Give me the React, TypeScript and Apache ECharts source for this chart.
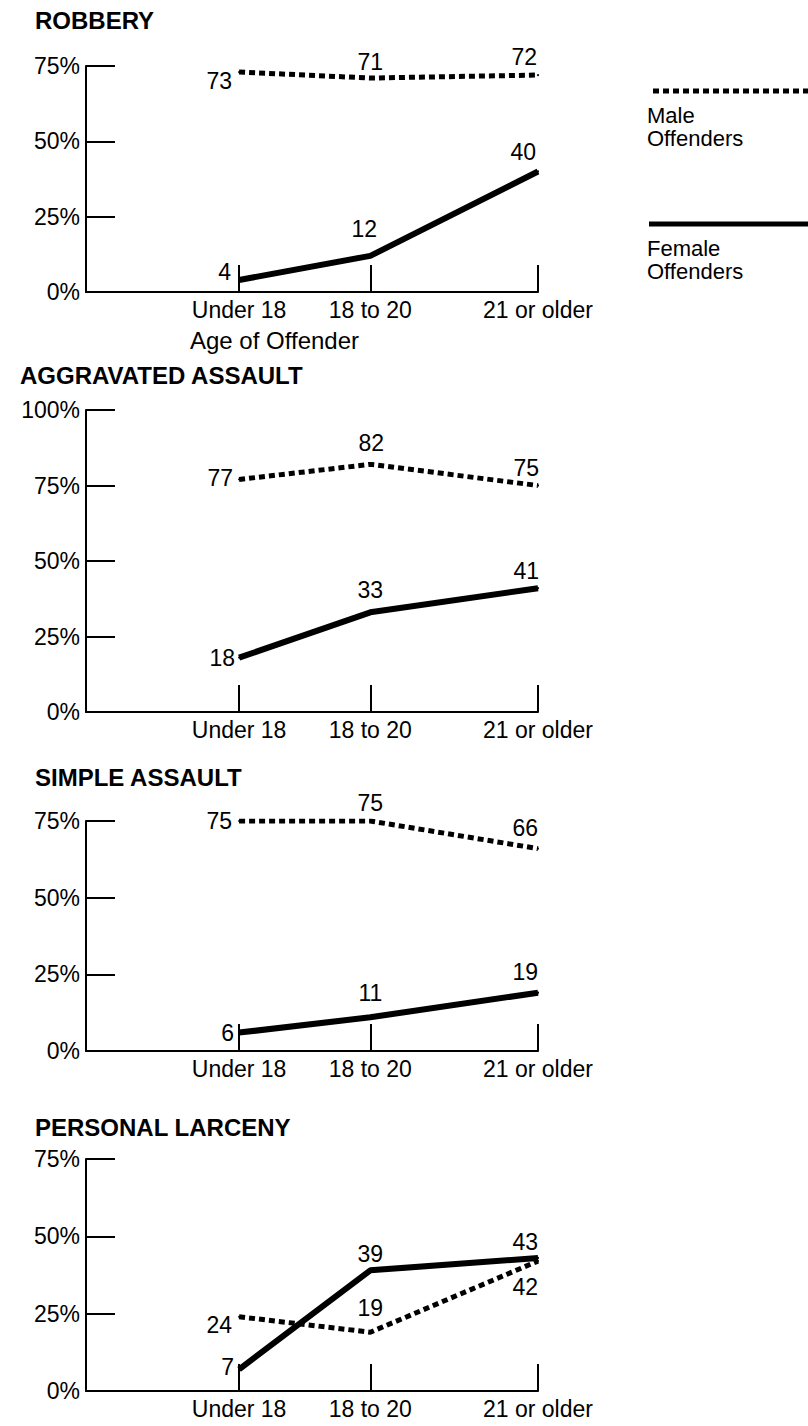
import React, { useEffect, useRef } from "react";
import * as echarts from "echarts";

// ---------- DATA ----------
const ageGroups = ["Under 18", "18 to 20", "21 or older"];
const crimeTitles = ["ROBBERY", "AGGRAVATED ASSAULT", "SIMPLE ASSAULT", "PERSONAL LARCENY"];
const robberyMale = [73, 71, 72];
const robberyFemale = [4, 12, 40];
const aggravatedMale = [77, 82, 75];
const aggravatedFemale = [18, 33, 41];
const simpleMale = [75, 75, 66];
const simpleFemale = [6, 11, 19];
const larcenyMale = [24, 19, 42];
const larcenyFemale = [7, 39, 43];
const yAxisMax = [75, 100, 75, 75];
const yTickStep = 25;
const xAxisTitle = "Age of Offender";
const legendMale = "Male\nOffenders";
const legendFemale = "Female\nOffenders";

const maleSeries = [robberyMale, aggravatedMale, simpleMale, larcenyMale];
const femaleSeries = [robberyFemale, aggravatedFemale, simpleFemale, larcenyFemale];

// ---------- LAYOUT ----------
const FONT = "'Liberation Sans', Arial, Helvetica, sans-serif";
const FS = 23;
const TITLE_FS = 24;
const LEGEND_FS = 22;
const GRID_LEFT = 86;
const GRID_WIDTH = 452;
const SLOT_COUNT = 62; // spacing slots of the horizontal axis
const AGE_SLOT = [21, 39, 62];
const PANELS = [
  { top: 66, bottom: 292, titleX: 35, titleY: 20 },
  { top: 410, bottom: 712, titleX: 20, titleY: 375 },
  { top: 821, bottom: 1051, titleX: 35, titleY: 777 },
  { top: 1159, bottom: 1391, titleX: 35, titleY: 1127 },
];
// label placement: [align, dx, dy] relative to the point
const LABEL_POS = [
  {
    male: [["right", -7, 9], ["center", 0, -16], ["right", -1, -18]],
    female: [["right", -8, -8], ["center", -6, -27], ["right", -2, -19]],
  },
  {
    male: [["right", -6, -1], ["center", 1, -21], ["right", 1, -18]],
    female: [["right", -4, 0], ["center", 0, -22], ["right", 1, -17]],
  },
  {
    male: [["right", -7, 0], ["center", 0, -18], ["right", 0, -21]],
    female: [["right", -5, 0], ["center", 0, -24], ["right", 0, -21]],
  },
  {
    male: [["right", -7, 8], ["center", 0, -24], ["right", 0, 26]],
    female: [["right", -5, -2], ["center", 0, -16], ["right", 0, -16]],
  },
];

const slotCategories: string[] = Array.from({ length: SLOT_COUNT + 1 }, (_, i) => {
  const k = AGE_SLOT.indexOf(i);
  return k >= 0 ? ageGroups[k] : "";
});

function buildData(values: number[], pos: any[]) {
  const arr: any[] = new Array(SLOT_COUNT + 1).fill(null);
  AGE_SLOT.forEach((slot, i) => {
    const [align, dx, dy] = pos[i];
    arr[slot] = {
      value: values[i],
      label: {
        show: true,
        position: "inside",
        align,
        verticalAlign: "middle",
        offset: [dx, dy],
        formatter: String(values[i]),
        color: "#000",
        fontSize: FS,
        fontFamily: FONT,
      },
    };
  });
  return arr;
}

export default function App() {
  const ref = useRef<HTMLDivElement>(null);
  useEffect(() => {
    if (!ref.current) return;
    const chart = echarts.init(ref.current, null, { renderer: "svg" });

    const grid = PANELS.map((p) => ({
      left: GRID_LEFT,
      width: GRID_WIDTH,
      top: p.top,
      height: p.bottom - p.top,
      containLabel: false,
    }));

    const xAxis = PANELS.map((_, i) => ({
      type: "category",
      gridIndex: i,
      data: slotCategories,
      boundaryGap: false,
      axisLine: { show: true, lineStyle: { color: "#000", width: 2 } },
      axisTick: {
        show: true,
        inside: true,
        length: 27,
        interval: (_idx: number, v: string) => v !== "",
        lineStyle: { color: "#000", width: 2 },
      },
      axisLabel: {
        interval: (_idx: number, v: string) => v !== "",
        color: "#000",
        fontSize: FS,
        fontFamily: FONT,
        margin: 6,
      },
      splitLine: { show: false },
    }));

    const yAxis = PANELS.map((_, i) => ({
      type: "value",
      gridIndex: i,
      min: 0,
      max: yAxisMax[i],
      interval: yTickStep,
      axisLine: { show: true, lineStyle: { color: "#000", width: 2 } },
      axisTick: { show: true, inside: true, length: 29, lineStyle: { color: "#000", width: 2 } },
      axisLabel: {
        formatter: "{value}%",
        color: "#000",
        fontSize: FS,
        fontFamily: FONT,
        margin: 6,
      },
      splitLine: { show: false },
    }));

    const series: any[] = [];
    PANELS.forEach((_, i) => {
      series.push({
        name: "Male Offenders",
        type: "line",
        xAxisIndex: i,
        yAxisIndex: i,
        connectNulls: true,
        showAllSymbol: true,
        symbol: "circle",
        symbolSize: 2,
        itemStyle: { color: "#000" },
        lineStyle: { color: "#000", width: 5, type: [6, 4], cap: "butt" },
        data: buildData(maleSeries[i], LABEL_POS[i].male),
      });
      series.push({
        name: "Female Offenders",
        type: "line",
        xAxisIndex: i,
        yAxisIndex: i,
        connectNulls: true,
        showAllSymbol: true,
        symbol: "circle",
        symbolSize: 2,
        itemStyle: { color: "#000" },
        lineStyle: { color: "#000", width: 6, type: "solid" },
        data: buildData(femaleSeries[i], LABEL_POS[i].female),
      });
    });

    const graphic: any[] = [];
    PANELS.forEach((p, i) => {
      graphic.push({
        type: "text",
        x: p.titleX,
        y: p.titleY,
        style: {
          text: crimeTitles[i],
          fill: "#000",
          font: `bold ${TITLE_FS}px ${FONT}`,
          verticalAlign: "middle",
        },
      });
    });
    graphic.push({
      type: "text",
      x: 190,
      y: 340,
      style: { text: xAxisTitle, fill: "#000", font: `${FS + 1}px ${FONT}`, verticalAlign: "middle" },
    });
    // legend
    graphic.push({
      type: "line",
      shape: { x1: 653, y1: 91, x2: 808, y2: 91 },
      style: { stroke: "#000", lineWidth: 5, lineDash: [6, 4] },
    });
    graphic.push({
      type: "text",
      x: 647,
      y: 104,
      style: { text: legendMale, fill: "#000", font: `${LEGEND_FS}px ${FONT}`, lineHeight: 23 },
    });
    graphic.push({
      type: "line",
      shape: { x1: 649, y1: 224, x2: 808, y2: 224 },
      style: { stroke: "#000", lineWidth: 5 },
    });
    graphic.push({
      type: "text",
      x: 647,
      y: 237,
      style: { text: legendFemale, fill: "#000", font: `${LEGEND_FS}px ${FONT}`, lineHeight: 23 },
    });

    chart.setOption({
      animation: false,
      backgroundColor: "#fff",
      grid,
      xAxis,
      yAxis,
      series,
      graphic,
    });
    return () => chart.dispose();
  }, []);

  return (
    <div
      ref={ref}
      style={{ position: "fixed", left: 0, top: 0, width: 808, height: 1426, background: "#fff" }}
    />
  );
}
